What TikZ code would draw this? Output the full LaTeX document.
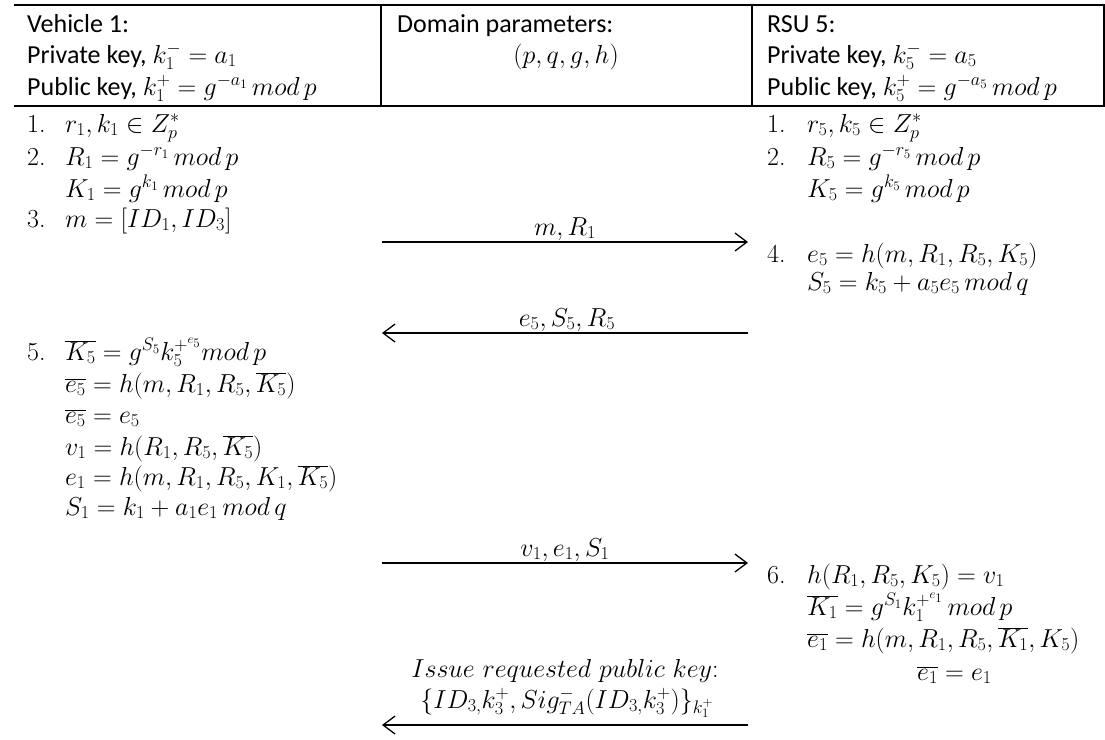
\RequirePackage{fix-cm}
\documentclass[tikz,border=0pt]{standalone}
\usepackage{fontspec}
\newfontfamily\calibri{Carlito}
\usetikzlibrary{arrows.meta}
\begin{document}
\begin{tikzpicture}[x=1pt,y=-1pt,
  txt/.style={inner sep=0pt, anchor=base west, font=\calibri\fontsize{26}{32}\selectfont},
  mth/.style={inner sep=0pt, anchor=base west, font=\fontsize{26}{32}\selectfont},
  lbl/.style={inner sep=0pt, anchor=base, font=\fontsize{26}{32}\selectfont},
  num/.style={inner sep=0pt, anchor=base west, font=\rmfamily\fontsize{26}{32}\selectfont},
  msg/.style={-{Straight Barb[length=12pt,width=18pt,line width=1.3pt]}, line width=1.3pt},
  rule/.style={line width=2.6pt},
  vrule/.style={line width=1.4pt}]
\useasboundingbox (0,0) rectangle (1105,739);
% table
\draw[rule] (14,5) -- (1105,5);
\draw[rule] (14,106) -- (1105,106);
\draw[vrule] (381,5) -- (381,106);
\draw[vrule] (752,5) -- (752,106);
\draw[vrule] (1104,5) -- (1104,106);
% header texts
\node[txt] (v1) at (27,32) {Vehicle 1:};
\node[txt] (v2) at (27,63) {Private key, $k_1^- = a_1$};
\node[txt] (v3) at (27,95) {Public key, $k_1^+ = g^{-a_1}\, mod\, p$};
\node[txt] (d1) at (397,32) {Domain parameters:};
\node[lbl] (d2) at (566,63) {$(p, q, g, h)$};
\node[txt] (r1) at (767,32) {RSU 5:};
\node[txt] (r2) at (767,63) {Private key, $k_5^- = a_5$};
\node[txt] (r3) at (767,95) {Public key, $k_5^+ = g^{-a_5}\, mod\, p$};
% left steps
\node[num] (ln1) at (27,132) {1.};
\node[mth] (l1) at (65,132) {$r_1, k_1 \in Z_p^*$};
\node[num] (ln2) at (27,165) {2.};
\node[mth] (l2) at (65,165) {$R_1 = g^{-r_1}\, mod\, p$};
\node[mth] (l2b) at (65,197) {$K_1 = g^{k_1}\, mod\, p$};
\node[num] (ln3) at (27,227) {3.};
\node[mth] (l3) at (65,227) {$m = [ID_1, ID_3]$};
\node[num] (ln5) at (27,360) {5.};
\node[mth] (l5a) at (65,360) {$\overline{K_5} = g^{S_5} k_5^{+^{e_5}} mod\, p$};
\node[mth] (l5b) at (65,392) {$\overline{e_5} = h(m, R_1, R_5, \overline{K_5})$};
\node[mth] (l5c) at (65,423) {$\overline{e_5} = e_5$};
\node[mth] (l5d) at (65,455) {$v_1 = h(R_1, R_5, \overline{K_5})$};
\node[mth] (l5e) at (65,485) {$e_1 = h(m, R_1, R_5, K_1, \overline{K_5})$};
\node[mth] (l5f) at (65,515) {$S_1 = k_1 + a_1 e_1\, mod\, q$};
% right steps
\node[num] (rn1) at (767,132) {1.};
\node[mth] (s1) at (807,132) {$r_5, k_5 \in Z_p^*$};
\node[num] (rn2) at (767,165) {2.};
\node[mth] (s2) at (807,165) {$R_5 = g^{-r_5}\, mod\, p$};
\node[mth] (s2b) at (807,197) {$K_5 = g^{k_5}\, mod\, p$};
\node[num] (rn4) at (767,262) {4.};
\node[mth] (s4a) at (807,262) {$e_5 = h(m, R_1, R_5, K_5)$};
\node[mth] (s4b) at (807,290) {$S_5 = k_5 + a_5 e_5\, mod\, q$};
\node[num] (rn6) at (767,583) {6.};
\node[mth] (s6a) at (807,583) {$h(R_1, R_5, K_5) = v_1$};
\node[mth] (s6b) at (807,615) {$\overline{K_1} = g^{S_1} k_1^{+^{e_1}}\, mod\, p$};
\node[mth] (s6c) at (807,647) {$\overline{e_1} = h(m, R_1, R_5, \overline{K_1}, K_5)$};
\node[mth] (s6d) at (917,680) {$\overline{e_1} = e_1$};
% messages
\coordinate (a1s) at (382,242); \coordinate (a1e) at (748,242);
\coordinate (a2s) at (748,333); \coordinate (a2e) at (382,333);
\coordinate (a3s) at (382,563); \coordinate (a3e) at (748,563);
\coordinate (a4s) at (748,725); \coordinate (a4e) at (382,725);
\draw[msg] (a1s) -- (a1e);
\draw[msg] (a2s) -- (a2e);
\draw[msg] (a3s) -- (a3e);
\draw[msg] (a4s) -- (a4e);
\node[lbl] (m1) at (565,235) {$m, R_1$};
\node[lbl] (m2) at (567,326) {$e_5, S_5, R_5$};
\node[lbl] (m3) at (565,556) {$v_1, e_1, S_1$};
\node[lbl] (m4a) at (565,677) {$Issue\ requested\ public\ key{:}$};
\node[lbl] (m4b) at (567,708) {$\{ID_{3,} k_3^+, Sig_{TA}^-\bigl(ID_{3,} k_3^+\bigr)\}_{k_1^+}$};
\end{tikzpicture}
\end{document}
